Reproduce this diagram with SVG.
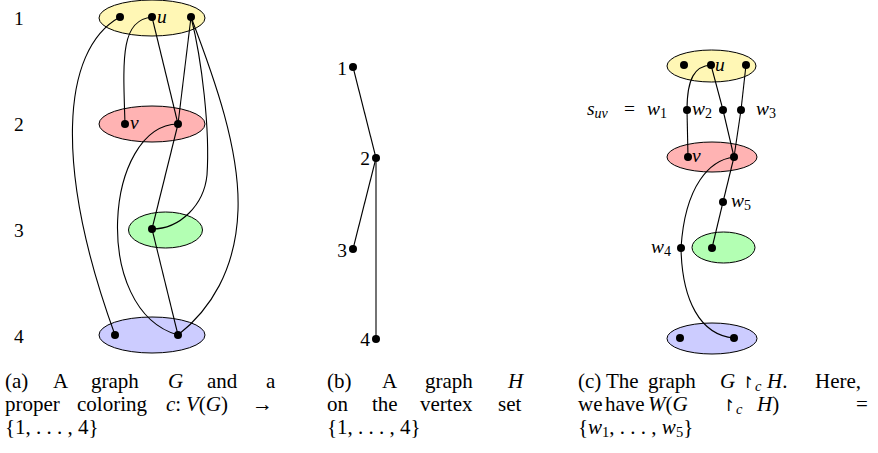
<svg xmlns="http://www.w3.org/2000/svg" width="878" height="453" viewBox="0 0 878 453">
<style>
text { font-family: "Liberation Serif", "DejaVu Serif", serif; fill: #000; }
.lbl { font-size: 19.5px; }
.cap { font-size: 21px; }
.it { font-style: italic; }
.sub { font-size: 14px; }
.csub { font-size: 14.5px; }
.edge { fill: none; stroke: #000; stroke-width: 1.1; }
.cls { stroke: #000; stroke-width: 1; }
.c1 { fill: #FFF7B5; }
.c2 { fill: #FFB3B3; }
.c3 { fill: #B3FFB3; }
.c4 { fill: #CCCCFF; }
.dot { fill: #000; }
.harp { font-family: "DejaVu Sans", sans-serif; font-style: normal; font-size: 16px; }
</style>
<rect width="878" height="453" fill="#fff"/>

<!-- Panel (a) -->
<g id="a-class1"><ellipse class="cls c1" cx="152" cy="18" rx="53" ry="18"/></g>
<g id="a-class2"><ellipse class="cls c2" cx="152" cy="124" rx="53" ry="18"/></g>
<g id="a-class3"><ellipse class="cls c3" cx="165.5" cy="230" rx="37" ry="18"/></g>
<g id="a-class4"><ellipse class="cls c4" cx="152" cy="335" rx="53" ry="18"/></g>
<g id="a-rowlabels" class="lbl">
  <text x="14" y="25">1</text>
  <text x="14" y="131">2</text>
  <text x="14" y="237">3</text>
  <text x="14" y="343">4</text>
</g>
<g id="a-edges">
  <path class="edge" d="M120,17 C60,50 55,170 115,335"/>
  <path class="edge" d="M152,17 C120,20 123,60 125,124"/>
  <path class="edge" d="M152,17 L178,124"/>
  <path class="edge" d="M191,17 L178,124"/>
  <path class="edge" d="M191,17 C202,60 210,130 207,175 C204,205 180,229 152,229"/>
  <path class="edge" d="M191,17 C215,80 240,150 238,210 C236,270 210,310 178,335"/>
  <path class="edge" d="M178,124 C105,125 90,310 178,335"/>
  <path class="edge" d="M178,124 L152,229"/>
  <path class="edge" d="M152,229 L178,335"/>
</g>
<g id="a-v1a"><circle class="dot" cx="120" cy="17" r="4"/></g>
<g id="a-u"><circle class="dot" cx="152" cy="17" r="4"/><text class="lbl it" x="157" y="23">u</text></g>
<g id="a-v1c"><circle class="dot" cx="191" cy="17" r="4"/></g>
<g id="a-v"><circle class="dot" cx="125" cy="124" r="4"/><text class="lbl it" x="130" y="129">v</text></g>
<g id="a-v2b"><circle class="dot" cx="178" cy="124" r="4"/></g>
<g id="a-v3"><circle class="dot" cx="152" cy="229" r="4"/></g>
<g id="a-v4a"><circle class="dot" cx="115" cy="335" r="4"/></g>
<g id="a-v4b"><circle class="dot" cx="178" cy="335" r="4"/></g>

<!-- Panel (b) -->
<g id="b-edges">
  <path class="edge" d="M353,67 L376,158"/>
  <path class="edge" d="M376,158 L353,249"/>
  <path class="edge" d="M376,158 L376,339"/>
</g>
<g id="b-1"><circle class="dot" cx="353" cy="67" r="4"/><text class="lbl" x="347" y="75" text-anchor="end">1</text></g>
<g id="b-2"><circle class="dot" cx="376" cy="158" r="4"/><text class="lbl" x="370" y="165" text-anchor="end">2</text></g>
<g id="b-3"><circle class="dot" cx="353" cy="249" r="4"/><text class="lbl" x="347" y="257" text-anchor="end">3</text></g>
<g id="b-4"><circle class="dot" cx="376" cy="339" r="4"/><text class="lbl" x="370" y="346" text-anchor="end">4</text></g>

<!-- Panel (c) -->
<g id="c-class1"><ellipse class="cls c1" cx="711.5" cy="66" rx="44.5" ry="16"/></g>
<g id="c-class2"><ellipse class="cls c2" cx="712" cy="157" rx="45" ry="15"/></g>
<g id="c-class3"><ellipse class="cls c3" cx="723.5" cy="247.5" rx="31.5" ry="15.5"/></g>
<g id="c-class4"><ellipse class="cls c4" cx="712" cy="338.5" rx="45" ry="15.5"/></g>
<g id="c-edges">
  <path class="edge" d="M711,65 C695,66 687,78 687,110"/>
  <path class="edge" d="M687,110 L688,157"/>
  <path class="edge" d="M711,65 L723,110"/>
  <path class="edge" d="M723,110 L734,157"/>
  <path class="edge" d="M746,65 L741,110"/>
  <path class="edge" d="M741,110 L734,157"/>
  <path class="edge" d="M734,157 L723,202"/>
  <path class="edge" d="M723,202 L712,248"/>
  <path class="edge" d="M734,157 C710,160 685,185 681,248"/>
  <path class="edge" d="M681,248 C682,300 700,335 734,338"/>
</g>
<g id="c-v1a"><circle class="dot" cx="684" cy="65" r="4"/></g>
<g id="c-u"><circle class="dot" cx="711" cy="65" r="4"/><text class="lbl it" x="715" y="71">u</text></g>
<g id="c-v1c"><circle class="dot" cx="746" cy="65" r="4"/></g>
<g id="c-w1"><circle class="dot" cx="687" cy="110" r="4"/>
  <text class="lbl" x="587" y="115"><tspan class="it">s</tspan><tspan class="it sub" dy="3">uv</tspan><tspan x="624" dy="-3">=</tspan><tspan class="it" x="647">w</tspan><tspan class="sub" dy="3">1</tspan></text></g>
<g id="c-w2"><circle class="dot" cx="723" cy="110" r="4"/>
  <text class="lbl" x="692" y="115"><tspan class="it">w</tspan><tspan class="sub" dy="3">2</tspan></text></g>
<g id="c-w3"><circle class="dot" cx="741" cy="110" r="4"/>
  <text class="lbl" x="756" y="115"><tspan class="it">w</tspan><tspan class="sub" dy="3">3</tspan></text></g>
<g id="c-v"><circle class="dot" cx="688" cy="157" r="4"/><text class="lbl it" x="692" y="162">v</text></g>
<g id="c-v2b"><circle class="dot" cx="734" cy="157" r="4"/></g>
<g id="c-w5"><circle class="dot" cx="723" cy="202" r="4"/>
  <text class="lbl" x="731" y="207"><tspan class="it">w</tspan><tspan class="sub" dy="3">5</tspan></text></g>
<g id="c-v3"><circle class="dot" cx="712" cy="248" r="4"/></g>
<g id="c-w4"><circle class="dot" cx="681" cy="248" r="4"/>
  <text class="lbl" x="651" y="253"><tspan class="it">w</tspan><tspan class="sub" dy="3">4</tspan></text></g>
<g id="c-v4a"><circle class="dot" cx="680" cy="338" r="4"/></g>
<g id="c-v4b"><circle class="dot" cx="734" cy="338" r="4"/></g>

<!-- Captions -->
<g id="caption-a" class="cap">
  <text y="388"><tspan x="5">(a)</tspan><tspan x="53">A</tspan><tspan x="91">graph</tspan><tspan x="168" class="it">G</tspan><tspan x="207">and</tspan><tspan x="266">a</tspan></text>
  <text y="411"><tspan x="5">proper</tspan><tspan x="77">coloring</tspan><tspan x="166" class="it">c</tspan><tspan>:</tspan><tspan x="186" class="it">V</tspan><tspan>(</tspan><tspan class="it">G</tspan><tspan>)</tspan><tspan x="252">→</tspan></text>
  <text x="5" y="434">{1, . . . , 4}</text>
</g>
<g id="caption-b" class="cap">
  <text y="388"><tspan x="327">(b)</tspan><tspan x="382">A</tspan><tspan x="425">graph</tspan><tspan x="508" class="it">H</tspan></text>
  <text y="411"><tspan x="327">on</tspan><tspan x="372">the</tspan><tspan x="420">vertex</tspan><tspan x="498">set</tspan></text>
  <text x="327" y="434">{1, . . . , 4}</text>
</g>
<g id="caption-c" class="cap">
  <text y="388"><tspan x="578">(c)</tspan><tspan x="606">The</tspan><tspan x="648">graph</tspan><tspan x="720" class="it">G</tspan></text>
  <text x="741" y="388" class="harp">↾</text>
  <text y="388"><tspan x="755" class="it csub" dy="3">c</tspan><tspan x="767" dy="-3" class="it">H</tspan><tspan>.</tspan><tspan x="815">Here,</tspan></text>
  <text y="411"><tspan x="578">we</tspan><tspan x="605">have</tspan><tspan x="648" class="it">W</tspan><tspan>(</tspan><tspan class="it">G</tspan></text>
  <text x="722" y="411" class="harp">↾</text>
  <text y="411"><tspan x="736" class="it csub" dy="3">c</tspan><tspan x="757" dy="-3" class="it">H</tspan><tspan>)</tspan><tspan x="856">=</tspan></text>
  <text x="578" y="434">{<tspan class="it">w</tspan><tspan class="csub" dy="3">1</tspan><tspan dy="-3">, . . . , </tspan><tspan class="it">w</tspan><tspan class="csub" dy="3">5</tspan><tspan dy="-3">}</tspan></text>
</g>
</svg>
